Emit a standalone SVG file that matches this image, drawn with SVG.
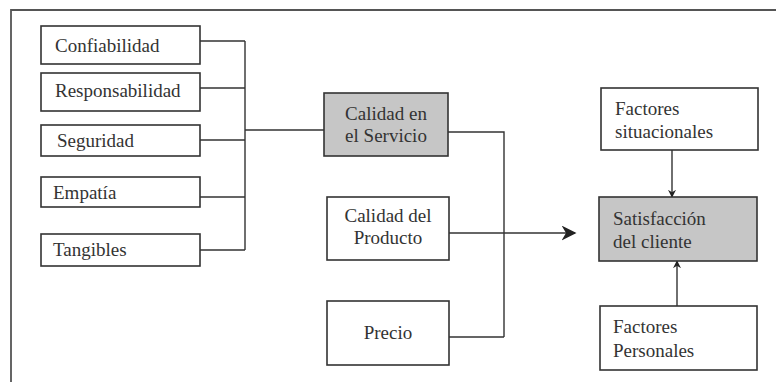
<svg xmlns="http://www.w3.org/2000/svg" width="776" height="382" viewBox="0 0 776 382">
<defs>
<style>
.box{fill:#fff;stroke:#333;stroke-width:1.6}
.hl{fill:#c6c6c6;stroke:#333;stroke-width:1.6}
.ln{fill:none;stroke:#333;stroke-width:1.4}
.c{text-anchor:middle}
</style>
<marker id="ah" viewBox="0 0 10 10" refX="9" refY="5" markerWidth="8" markerHeight="8" markerUnits="userSpaceOnUse" orient="auto">
<path d="M0,0 L10,5 L0,10 L3,5 Z" fill="#222"/>
</marker>
<marker id="ab" viewBox="0 0 10 10" refX="9" refY="5" markerWidth="15" markerHeight="15" markerUnits="userSpaceOnUse" orient="auto">
<path d="M0,0 L10,5 L0,10 L3,5 Z" fill="#222"/>
</marker>
</defs>
<rect width="776" height="382" fill="#fff"/>
<path d="M11,382 V10 H776" fill="none" stroke="#555" stroke-width="1.8"/>
<g id="connectors">
<path class="ln" d="M200,41 H245 M200,88 H245 M200,140 H245 M200,197 H245 M200,250 H245 M245,41 V250 M245,130 H324"/>
<path class="ln" d="M448,132 H504 V337 M449,337 H504"/>
<path class="ln" d="M449,233 H575" marker-end="url(#ab)"/>
<path class="ln" d="M672,150 V197" marker-end="url(#ah)"/>
<path class="ln" d="M677,306 V261" marker-end="url(#ah)"/>
</g>
<g font-family="Liberation Serif, DejaVu Serif, serif" font-size="19" fill="#333">
<g id="confiabilidad"><rect class="box" x="41" y="26" width="159" height="38"/><text x="55" y="52">Confiabilidad</text></g>
<g id="responsabilidad"><rect class="box" x="41" y="73" width="159" height="38"/><text x="55" y="97">Responsabilidad</text></g>
<g id="seguridad"><rect class="box" x="41" y="125" width="159" height="31"/><text x="57" y="147">Seguridad</text></g>
<g id="empatia"><rect class="box" x="41" y="177" width="159" height="30"/><text x="53" y="199">Empatía</text></g>
<g id="tangibles"><rect class="box" x="41" y="234" width="159" height="32"/><text x="53" y="256">Tangibles</text></g>
<g id="calidad-servicio"><rect class="hl" x="324" y="93" width="124" height="63"/><text class="c" x="386" y="120">Calidad en</text><text class="c" x="386" y="142">el Servicio</text></g>
<g id="calidad-producto"><rect class="box" x="327" y="197" width="122" height="63"/><text class="c" x="388" y="222">Calidad del</text><text class="c" x="388" y="244">Producto</text></g>
<g id="precio"><rect class="box" x="327" y="301" width="122" height="64"/><text class="c" x="388" y="339">Precio</text></g>
<g id="factores-situacionales"><rect class="box" x="601" y="88" width="157" height="62"/><text x="615" y="115">Factores</text><text x="615" y="138">situacionales</text></g>
<g id="satisfaccion"><rect class="hl" x="599" y="197" width="158" height="64"/><text x="613" y="225">Satisfacción</text><text x="613" y="248">del cliente</text></g>
<g id="factores-personales"><rect class="box" x="600" y="306" width="157" height="64"/><text x="613" y="333">Factores</text><text x="613" y="357">Personales</text></g>
</g>
</svg>
